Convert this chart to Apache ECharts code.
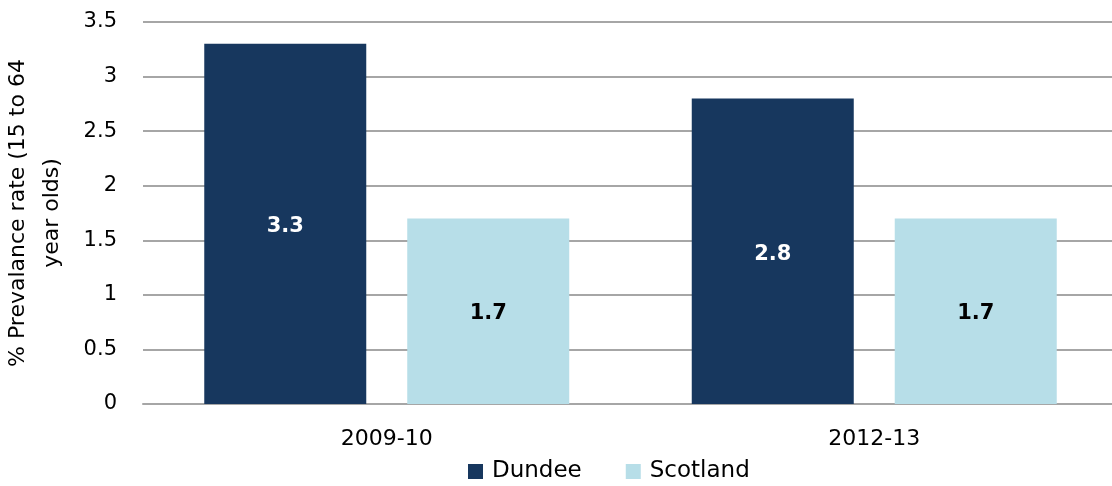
<!DOCTYPE html>
<html><head><meta charset="utf-8">
<script src="https://cdn.jsdelivr.net/npm/echarts@6/dist/echarts.min.js"></script>
<style>html,body{margin:0;padding:0;background:#fff}#c{width:1112px;height:486px}</style>
</head><body><div id="c"></div>
<script>
const categories = ['2009-10', '2012-13'];
const dundee = [3.3, 2.8];
const scotland = [1.7, 1.7];
const yTicks = [0, 0.5, 1, 1.5, 2, 2.5, 3, 3.5];
const font = '"DejaVu Sans", sans-serif';
const chart = echarts.init(document.getElementById('c'));
chart.setOption({
  animation: false,
  textStyle: { fontFamily: font },
  grid: { left: 143, right: -6, top: 22, bottom: 82, containLabel: false, outerBoundsMode: 'none' },
  legend: {
    bottom: -2, left: 463, itemWidth: 15, itemHeight: 15, itemGap: 44,
    icon: 'rect',
    textStyle: { fontSize: 23, color: '#000', fontFamily: font, padding: [0, 0, 0, 4] },
    data: ['Dundee', 'Scotland']
  },
  xAxis: {
    type: 'category', data: categories,
    axisLine: { show: true, lineStyle: { color: '#a6a6a6', width: 2 } },
    axisTick: { show: false },
    axisLabel: { fontSize: 22, color: '#000', margin: 24, fontFamily: font }
  },
  yAxis: {
    type: 'value', min: yTicks[0], max: yTicks[yTicks.length - 1], interval: 0.5,
    name: '% Prevalance rate (15 to 64\nyear olds)',
    nameLocation: 'middle', nameGap: 74, nameRotate: 90,
    nameTextStyle: { fontSize: 22, color: '#000', lineHeight: 34, fontFamily: font },
    axisLine: { show: false }, axisTick: { show: false },
    axisLabel: { fontSize: 21, color: '#000', margin: 26, fontFamily: font },
    splitLine: { lineStyle: { color: '#a6a6a6', width: 2 } }
  },
  series: [
    {
      name: 'Dundee', type: 'bar', data: dundee, barWidth: 162, barGap: '25.3%',
      itemStyle: { color: '#17375e' },
      label: { show: true, position: 'inside', color: '#fff', fontWeight: 'bold', fontSize: 21, fontFamily: font, offset: [0, 3] }
    },
    {
      name: 'Scotland', type: 'bar', data: scotland, barWidth: 162,
      itemStyle: { color: '#b7dee8' },
      label: { show: true, position: 'inside', color: '#000', fontWeight: 'bold', fontSize: 21, fontFamily: font, offset: [0, 2] }
    }
  ]
});
</script></body></html>
